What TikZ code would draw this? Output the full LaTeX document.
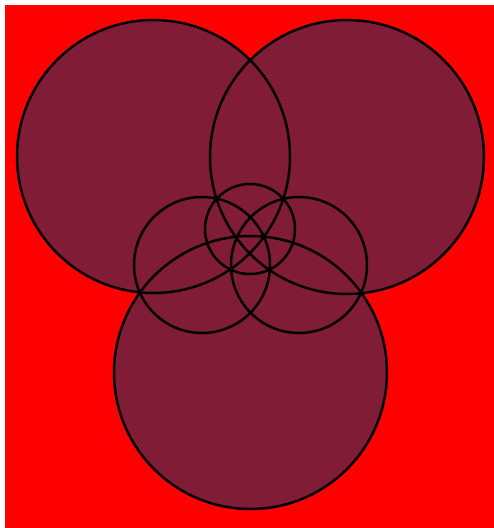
\documentclass[tikz,border=0pt]{standalone}
\definecolor{bgred}{RGB}{255,0,0}
\definecolor{maroon}{RGB}{128,28,54}
\tikzset{
  ring/.style={circle, inner sep=0pt, fill=maroon},
  outline/.style={draw=black, line width=2.5pt},
}
\begin{document}
\begin{tikzpicture}[x=1pt,y=-1pt]
\useasboundingbox (0,0) rectangle (494,528);
\fill[white] (0,0) rectangle (494,528);
\fill[bgred] (5,5) rectangle (494,528);
% fills
\node[ring, minimum size=273pt] (tl) at (153.5,156.5) {};
\node[ring, minimum size=274pt] (tr) at (347,157) {};
\node[ring, minimum size=273pt] (bo) at (250.5,372.5) {};
\node[ring, minimum size=136pt] (ml) at (202,265) {};
\node[ring, minimum size=136pt] (mr) at (299,265) {};
\node[ring, minimum size=90pt] (tc) at (250,229) {};
% outlines
\draw[outline] (tl.center) circle[radius=136.5];
\draw[outline] (tr.center) circle[radius=137];
\draw[outline] (bo.center) circle[radius=136.5];
\draw[outline] (ml.center) circle[radius=68];
\draw[outline] (mr.center) circle[radius=68];
\draw[outline] (tc.center) circle[radius=45];
\end{tikzpicture}
\end{document}
